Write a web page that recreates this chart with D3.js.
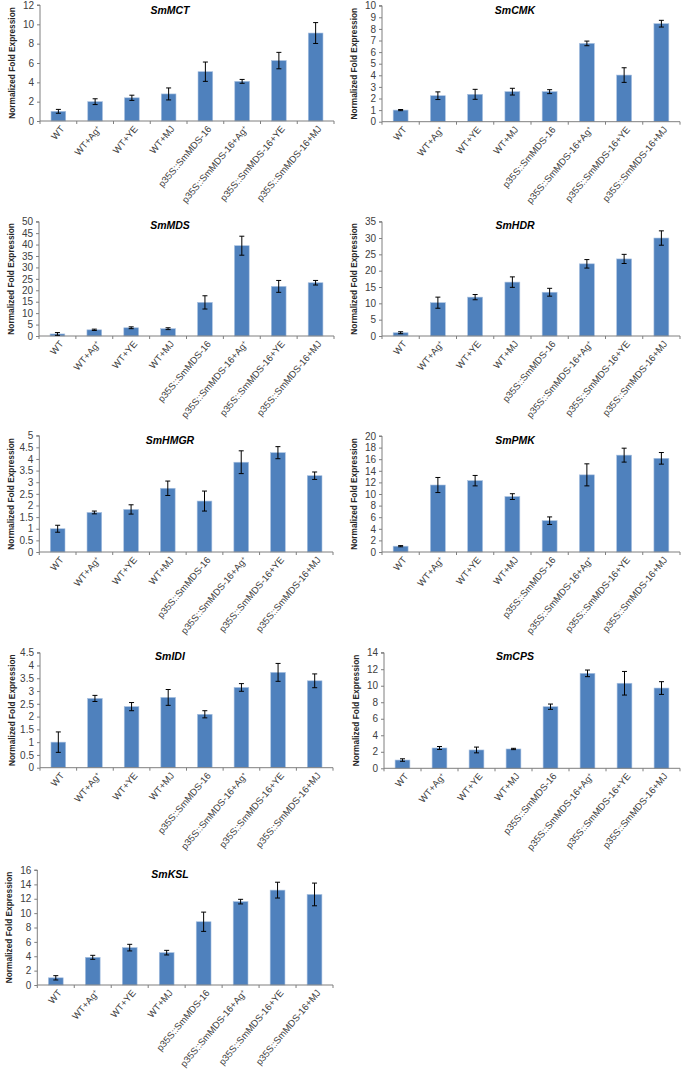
<!DOCTYPE html>
<html><head><meta charset="utf-8">
<script src="https://cdn.jsdelivr.net/npm/d3@7"></script>
<style>body{margin:0;background:#fff} svg{display:block}</style>
</head><body>
<svg id="c" width="685" height="1069"></svg>
<script>
// ---------- data ----------
const categories = ["WT","WT+Ag+","WT+YE","WT+MJ","p35S::SmMDS-16","p35S::SmMDS-16+Ag+","p35S::SmMDS-16+YE","p35S::SmMDS-16+MJ"];
const genes = ["SmMCT","SmCMK","SmMDS","SmHDR","SmHMGR","SmPMK","SmIDI","SmCPS","SmKSL"];

const smMCT    = [1.0, 2.0, 2.4, 2.8, 5.1, 4.1, 6.25, 9.1];
const smMCTErr = [0.2, 0.3, 0.27, 0.62, 1.0, 0.2, 0.85, 1.08];
const smCMK    = [1.0, 2.24, 2.36, 2.59, 2.59, 6.75, 4.02, 8.45];
const smCMKErr = [0.05, 0.33, 0.43, 0.29, 0.17, 0.2, 0.63, 0.29];
const smMDS    = [0.9, 2.7, 3.6, 3.2, 14.7, 39.5, 21.7, 23.3];
const smMDSErr = [0.6, 0.3, 0.4, 0.4, 2.9, 4.15, 2.6, 1.0];
const smHDR    = [1.0, 10.2, 11.9, 16.5, 13.4, 22.1, 23.6, 30.0];
const smHDRErr = [0.3, 1.7, 0.8, 1.6, 1.2, 1.3, 1.4, 2.2];
const smHMGR    = [1.0, 1.70, 1.83, 2.74, 2.19, 3.86, 4.27, 3.28];
const smHMGRErr = [0.15, 0.06, 0.2, 0.31, 0.43, 0.49, 0.26, 0.16];
const smPMK    = [1.0, 11.55, 12.3, 9.55, 5.4, 13.3, 16.7, 16.15];
const smPMKErr = [0.1, 1.3, 0.9, 0.5, 0.65, 1.9, 1.2, 1.0];
const smIDI    = [1.0, 2.71, 2.39, 2.75, 2.09, 3.14, 3.73, 3.40];
const smIDIErr = [0.4, 0.12, 0.16, 0.31, 0.14, 0.15, 0.35, 0.27];
const smCPS    = [1.0, 2.46, 2.22, 2.34, 7.46, 11.5, 10.3, 9.72];
const smCPSErr = [0.15, 0.18, 0.35, 0.08, 0.32, 0.4, 1.43, 0.77];
const smKSL    = [1.0, 3.85, 5.2, 4.5, 8.8, 11.6, 13.2, 12.6];
const smKSLErr = [0.3, 0.28, 0.46, 0.32, 1.34, 0.32, 1.1, 1.58];

const yMax  = [12, 10, 50, 35, 5, 20, 4.5, 14, 16];
const yStep = [2, 1, 5, 5, 0.5, 2, 0.5, 2, 2];

const values = [smMCT, smCMK, smMDS, smHDR, smHMGR, smPMK, smIDI, smCPS, smKSL];
const errors = [smMCTErr, smCMKErr, smMDSErr, smHDRErr, smHMGRErr, smPMKErr, smIDIErr, smCPSErr, smKSLErr];

// ---------- layout (pixel frames of each plot area) ----------
const frames = [
  {x0:40,  x1:334, yt:5,     yb:121,   ty:14,  cx:170},
  {x0:382, x1:680, yt:5.7,   yb:121.7, ty:14,  cx:515},
  {x0:39,  x1:334, yt:221.7, yb:336,   ty:229, cx:170},
  {x0:382, x1:680, yt:221.7, yb:336,   ty:229, cx:515},
  {x0:39.3,x1:333, yt:435.7, yb:552,   ty:444, cx:170},
  {x0:382, x1:680, yt:436,   yb:552,   ty:444, cx:515},
  {x0:40,  x1:333, yt:652.7, yb:767.7, ty:660, cx:170},
  {x0:384, x1:680, yt:652.7, yb:768.3, ty:660, cx:515},
  {x0:37.3,x1:333, yt:870,   yb:985,   ty:878, cx:170}
];

const svg = d3.select("#c");
const FONT = "'Liberation Sans', Arial, sans-serif";
const axisColor = "#7f7f7f";
const barColor = "#4f81bd";

genes.forEach((g, gi) => {
  const f = frames[gi];
  const vals = values[gi], errs = errors[gi];
  const y = d3.scaleLinear().domain([0, yMax[gi]]).range([f.yb, f.yt]);
  const x = d3.scaleBand().domain(categories).range([f.x0, f.x1]).paddingInner(0.6).paddingOuter(0.3);
  const step = x.step();
  const G = svg.append("g");

  // ticks
  const nT = Math.round(yMax[gi] / yStep[gi]);
  const ticks = d3.range(nT + 1).map(i => +(i * yStep[gi]).toFixed(2));
  const ax = G.append("g").attr("transform", `translate(${f.x0},0)`)
    .call(d3.axisLeft(y).tickValues(ticks).tickSize(3).tickPadding(3).tickFormat(d3.format("~g")));
  ax.select(".domain").attr("stroke", axisColor).attr("d", `M-3,${f.yt}H0V${f.yb}`);
  ax.selectAll(".tick line").attr("stroke", axisColor);
  ax.selectAll(".tick text").attr("fill", "#404040").style("font-family", FONT).style("font-size", "10px");

  // bars
  G.selectAll("rect.bar").data(vals).join("rect")
    .attr("x", (d, i) => x(categories[i]))
    .attr("width", x.bandwidth())
    .attr("y", d => y(d))
    .attr("height", d => f.yb - y(d))
    .attr("fill", barColor)
    .attr("stroke", "#a9c1e0").attr("stroke-width", 0.6);

  // x axis line & ticks at category boundaries
  G.append("line").attr("x1", f.x0).attr("x2", f.x1).attr("y1", f.yb).attr("y2", f.yb)
    .attr("stroke", axisColor).attr("stroke-width", 1);
  G.selectAll("line.xt").data(d3.range(categories.length + 1)).join("line")
    .attr("x1", i => f.x0 + i * step).attr("x2", i => f.x0 + i * step)
    .attr("y1", f.yb).attr("y2", f.yb + 3).attr("stroke", axisColor);

  // error bars
  const eg = G.selectAll("g.err").data(vals).join("g");
  eg.append("line")
    .attr("x1", (d, i) => x(categories[i]) + x.bandwidth() / 2)
    .attr("x2", (d, i) => x(categories[i]) + x.bandwidth() / 2)
    .attr("y1", (d, i) => y(d - errs[i])).attr("y2", (d, i) => y(d + errs[i]))
    .attr("stroke", "#000").attr("stroke-width", 1);
  [-1, 1].forEach(s => {
    eg.append("line")
      .attr("x1", (d, i) => x(categories[i]) + x.bandwidth() / 2 - 2.5)
      .attr("x2", (d, i) => x(categories[i]) + x.bandwidth() / 2 + 2.5)
      .attr("y1", (d, i) => y(d + s * errs[i])).attr("y2", (d, i) => y(d + s * errs[i]))
      .attr("stroke", "#000").attr("stroke-width", 1);
  });

  // category labels
  categories.forEach((c, i) => {
    const cxp = x(c) + x.bandwidth() / 2;
    const t = G.append("text")
      .attr("transform", `translate(${cxp + 4},${f.yb + 6}) rotate(-50)`)
      .attr("text-anchor", "end").attr("dy", "0.35em")
      .attr("fill", "#404040").style("font-family", FONT).style("font-size", "9.5px");
    if (c.endsWith("Ag+")) {
      t.append("tspan").text(c.slice(0, -1));
      t.append("tspan").attr("baseline-shift", "super").style("font-size", "6px").text("+");
    } else {
      t.text(c);
    }
  });

  // y axis title
  G.append("text")
    .attr("transform", `translate(${f.x0 - 28},${(f.yt + f.yb) / 2}) rotate(-90)`)
    .attr("text-anchor", "middle").attr("dy", "0.35em")
    .style("font-family", FONT).style("font-size", "8.3px").style("font-weight", "bold")
    .attr("fill", "#262626")
    .text("Normalized Fold Expression");

  // chart title
  G.append("text").attr("x", f.cx).attr("y", f.ty)
    .attr("text-anchor", "middle")
    .style("font-family", FONT).style("font-size", "10.5px")
    .style("font-weight", "bold").style("font-style", "italic")
    .text(g);
});
</script>
</body></html>
